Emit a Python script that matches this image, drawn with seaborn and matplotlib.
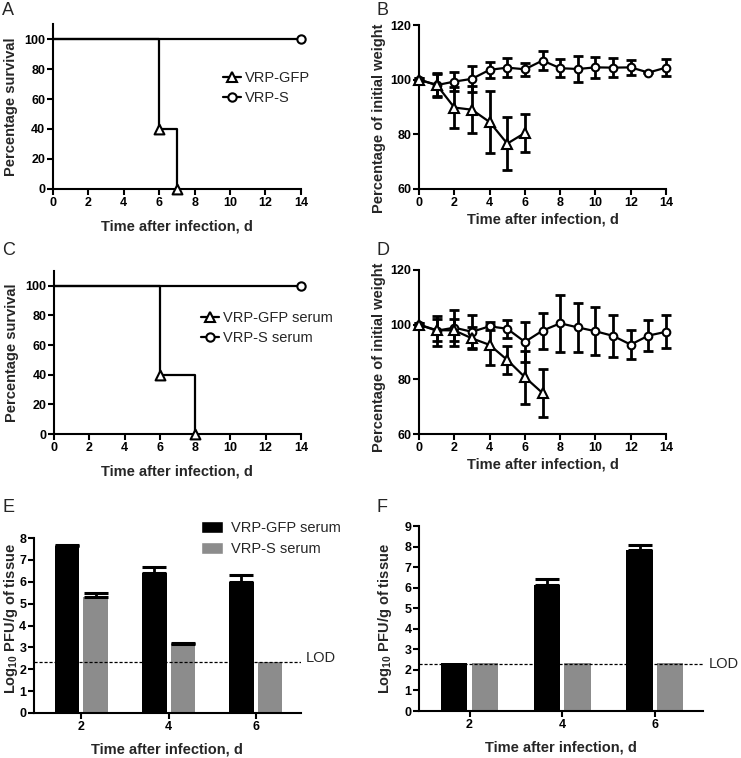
import matplotlib

matplotlib.use("Agg")

import matplotlib.pyplot as plt
import numpy as np
import pandas as pd
import seaborn as sns
from matplotlib.lines import Line2D
from matplotlib.patches import Patch

sns.set_theme(style="ticks")
plt.rcParams["font.family"] = ["Liberation Sans", "DejaVu Sans"]
plt.rcParams.update({
    "axes.linewidth": 1.5,
    "xtick.major.width": 1.5,
    "ytick.major.width": 1.5,
    "xtick.major.size": 4,
    "ytick.major.size": 4,
    "xtick.major.pad": 1.5,
    "ytick.major.pad": 1.5,
    "mathtext.fontset": "custom",
    "mathtext.rm": "Liberation Sans:bold",
    "mathtext.default": "rm",
})

# survival curves (A, C)
a_gfp_days = [0, 6, 7]
a_gfp_pct = [100, 40, 0]
a_s_days = [0, 14]
a_s_pct = [100, 100]
c_gfp_days = [0, 6, 8]
c_gfp_pct = [100, 40, 0]
c_s_days = [0, 14]
c_s_pct = [100, 100]

# weight curves (B, D)
weight_days = list(range(15))
b_gfp_mean = [100, 98.1, 89.8, 89.0, 84.5, 76.6, 80.5]
b_gfp_sd = [0.5, 4.4, 7.4, 8.6, 11.4, 9.6, 7.0]
b_s_mean = [100, 98.0, 99.3, 100.3, 103.6, 104.4, 103.8, 107.0, 104.2, 103.9, 104.5, 104.4, 104.5, 102.6, 104.4]
b_s_sd = [0.5, 4.0, 3.6, 4.8, 2.9, 3.4, 2.4, 3.4, 3.4, 4.7, 3.9, 3.6, 2.7, 0.3, 3.2]
d_gfp_mean = [100, 98.0, 97.9, 95.0, 92.6, 87.1, 80.8, 75.0]
d_gfp_sd = [0.5, 4.0, 4.0, 4.0, 7.2, 5.2, 9.7, 8.8]
d_s_mean = [100, 97.8, 98.9, 97.4, 99.4, 98.5, 93.7, 97.8, 100.5, 99.0, 97.6, 95.9, 92.7, 96.0, 97.4]
d_s_sd = [0.5, 5.5, 6.6, 6.0, 1.5, 3.2, 7.2, 6.6, 10.5, 9.0, 8.7, 7.7, 5.2, 5.6, 6.1]

# viral titers (E, F)
bar_days = ["2", "4", "6"]
e_gfp_mean = [7.62, 6.38, 6.01]
e_gfp_sd = [0.08, 0.29, 0.31]
e_s_mean = [5.29, 3.14, 2.33]
e_s_sd = [0.2, 0.07, 0.0]
f_gfp_mean = [2.33, 6.12, 7.82]
f_gfp_sd = [0.0, 0.29, 0.26]
f_s_mean = [2.33, 2.33, 2.33]
f_s_sd = [0.0, 0.0, 0.0]
lod = 2.31

GRAY = "#8c8c8c"
TICK_FS = 9
LABEL_FS = 10.5
XLABEL = "Time after infection, d"


def _style(ax):
    sns.despine(ax=ax)
    ax.tick_params(labelsize=TICK_FS, color="black", labelcolor="black")
    for lab in ax.get_xticklabels() + ax.get_yticklabels():
        lab.set_fontweight("bold")
    for side in ("left", "bottom"):
        ax.spines[side].set_color("black")


def survival(ax, gfp_days, gfp_pct, s_days, s_pct, labels, legend_at):
    sns.lineplot(x=s_days, y=s_pct, drawstyle="steps-post", color="black", lw=1.6, ax=ax)
    sns.lineplot(x=gfp_days, y=gfp_pct, drawstyle="steps-post", color="black", lw=1.6, ax=ax)
    sns.scatterplot(x=gfp_days[1:], y=gfp_pct[1:], marker="^", s=50, facecolor="white",
                    edgecolor="black", linewidth=1.5, zorder=5, clip_on=False, ax=ax)
    sns.scatterplot(x=s_days[-1:], y=s_pct[-1:], marker="o", s=36, facecolor="white",
                    edgecolor="black", linewidth=1.5, zorder=5, clip_on=False, ax=ax)
    ax.set_xlim(0, 14)
    ax.set_ylim(0, 110)
    ax.set_xticks(range(0, 15, 2))
    ax.set_yticks(range(0, 101, 20))
    ax.set_xlabel(XLABEL, fontsize=LABEL_FS, fontweight="bold", labelpad=8)
    ax.set_ylabel("Percentage survival", fontsize=LABEL_FS, fontweight="bold")
    ax.yaxis.set_label_coords(-0.142, 0.5)
    handles = [
        Line2D([], [], color="black", lw=1.6, marker="^", markersize=7, markerfacecolor="white", markeredgewidth=1.5),
        Line2D([], [], color="black", lw=1.6, marker="o", markersize=6, markerfacecolor="white", markeredgewidth=1.5),
    ]
    ax.legend(handles, labels, loc="upper left", bbox_to_anchor=legend_at, frameon=False,
              fontsize=10.5, handlelength=1.25, handletextpad=0.3, labelspacing=0.45, borderpad=0)
    _style(ax)


def weight(ax, gfp_mean, gfp_sd, s_mean, s_sd, label_y):
    gfp_days = weight_days[:len(gfp_mean)]
    for days, mean, sd, mk, ms in ((weight_days, s_mean, s_sd, "o", 5.5), (gfp_days, gfp_mean, gfp_sd, "^", 6.5)):
        ax.errorbar(days, mean, yerr=sd, fmt="none", ecolor="black", elinewidth=2,
                    capsize=3.5, capthick=2, zorder=2, clip_on=False)
        sns.lineplot(x=days, y=mean, color="black", lw=1.6, marker=mk, markersize=ms,
                     markerfacecolor="white", markeredgecolor="black", markeredgewidth=1.5,
                     zorder=4, clip_on=False, ax=ax)
    ax.set_xlim(0, 14)
    ax.set_ylim(60, 120)
    ax.set_xticks(range(0, 15, 2))
    ax.set_yticks([60, 80, 100, 120])
    ax.set_xlabel(XLABEL, fontsize=LABEL_FS, fontweight="bold", labelpad=3)
    ax.set_ylabel("Percentage of initial weight", fontsize=LABEL_FS, fontweight="bold")
    ax.yaxis.set_label_coords(-0.132, label_y)
    _style(ax)


def titer(ax, gfp_mean, gfp_sd, s_mean, s_sd, ymax, lod_dy, label_xy, show_legend):
    df = pd.DataFrame({
        "day": bar_days * 2,
        "value": gfp_mean + s_mean,
        "group": ["VRP-GFP serum"] * len(bar_days) + ["VRP-S serum"] * len(bar_days),
    })
    sns.barplot(data=df, x="day", y="value", hue="group", palette=["black", GRAY],
                width=0.66, gap=0.14, errorbar=None, linewidth=0, legend=False, ax=ax)
    for container, sds in zip(ax.containers, (gfp_sd, s_sd)):
        xs = [p.get_x() + p.get_width() / 2 for p in container.patches]
        hs = [p.get_height() for p in container.patches]
        for x, h, sd in zip(xs, hs, sds):
            if sd > 0:
                ax.errorbar([x], [h], yerr=[[0], [sd]], fmt="none", ecolor="black",
                            elinewidth=2, capsize=8.5, capthick=2.2, zorder=1)
    ax.axhline(lod, color="black", lw=0.9, ls=(0, (2.5, 1.5)), zorder=3)
    ax.text(1.02, lod + lod_dy, "LOD", transform=ax.get_yaxis_transform(), fontsize=10.5,
            va="center", ha="left")
    ax.set_xlim(-0.545, 2.52)
    ax.set_ylim(0, ymax)
    ax.set_yticks(range(0, ymax + 1))
    ax.set_xlabel(XLABEL, fontsize=LABEL_FS, fontweight="bold", labelpad=7)
    ax.set_ylabel("Log$_{10}$ PFU/g of tissue", fontsize=LABEL_FS, fontweight="bold")
    ax.yaxis.set_label_coords(*label_xy)
    if show_legend:
        handles = [Patch(facecolor="black"), Patch(facecolor=GRAY)]
        ax.legend(handles, ["VRP-GFP serum", "VRP-S serum"], loc="upper left",
                  bbox_to_anchor=(0.6, 1.14), frameon=False, fontsize=10.5,
                  handlelength=1.5, handleheight=0.85, handletextpad=0.55, labelspacing=0.5, borderpad=0)
    _style(ax)


fig = plt.figure(figsize=(7.41, 7.58), dpi=100)
ax_a = fig.add_axes([0.0715, 0.7507, 0.3345, 0.2176])
ax_b = fig.add_axes([0.5655, 0.7507, 0.3333, 0.2163])
ax_c = fig.add_axes([0.0729, 0.4274, 0.3331, 0.2151])
ax_d = fig.add_axes([0.5655, 0.4274, 0.3333, 0.2164])
ax_e = fig.add_axes([0.0459, 0.0594, 0.3601, 0.2308])
ax_f = fig.add_axes([0.5655, 0.0620, 0.3832, 0.2440])

survival(ax_a, a_gfp_days, a_gfp_pct, a_s_days, a_s_pct, ["VRP-GFP", "VRP-S"], (0.655, 0.76))
survival(ax_c, c_gfp_days, c_gfp_pct, c_s_days, c_s_pct, ["VRP-GFP serum", "VRP-S serum"], (0.565, 0.80))
weight(ax_b, b_gfp_mean, b_gfp_sd, b_s_mean, b_s_sd, 0.43)
weight(ax_d, d_gfp_mean, d_gfp_sd, d_s_mean, d_s_sd, 0.47)
titer(ax_e, e_gfp_mean, e_gfp_sd, e_s_mean, e_s_sd, 8, 0.22, (-0.052, 0.54), True)
titer(ax_f, f_gfp_mean, f_gfp_sd, f_s_mean, f_s_sd, 9, 0.0, (-0.087, 0.5), False)

for letter, (x, y) in zip("ABCDEF", [(2, 2), (377, 2), (2, 242), (377, 242), (2, 499), (377, 499)]):
    fig.text(x / 741, 1 - y / 758, letter, fontsize=13, va="top", ha="left")

fig.savefig("out.png", dpi=100)
